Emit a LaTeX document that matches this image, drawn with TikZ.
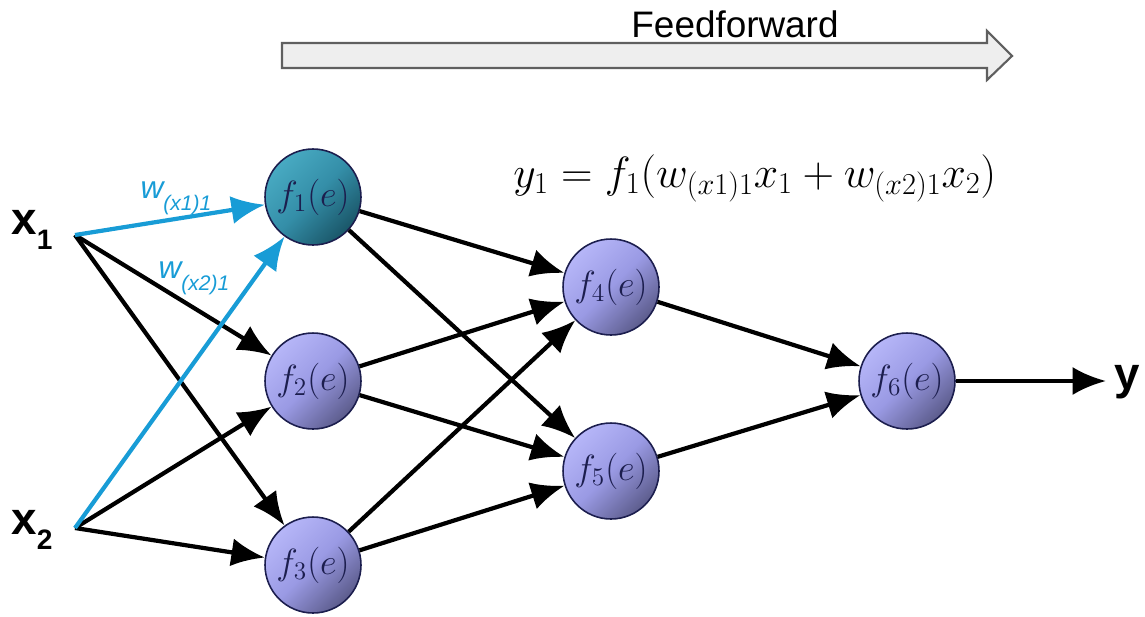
\documentclass[tikz,border=0pt]{standalone}
\usepackage{fontspec}
\newfontfamily\arialfont{Liberation Sans}
\usepackage{xcolor}
\definecolor{NeuronLight}{RGB}{182,182,248}
\definecolor{NeuronMid}{RGB}{154,154,228}
\definecolor{NeuronDark}{RGB}{92,92,140}
\definecolor{TealLight}{RGB}{72,170,194}
\definecolor{TealMid}{RGB}{52,142,168}
\definecolor{TealDark}{RGB}{26,86,104}
\definecolor{WeightBlue}{RGB}{24,156,214}
\definecolor{InkNavy}{RGB}{28,30,78}
\definecolor{ArrowFill}{RGB}{238,238,238}
\definecolor{ArrowEdge}{RGB}{95,95,95}
\usetikzlibrary{positioning, arrows.meta}

\begin{document}
\begin{tikzpicture}[x=0.02cm, y=-0.02cm,
  neuron/.style={circle, draw=InkNavy, line width=0.9pt, minimum size=1.92cm, inner sep=0pt,
    top color=NeuronLight, bottom color=NeuronDark, middle color=NeuronMid, shading angle=45,
    text=InkNavy, font=\fontsize{21}{24}\selectfont},
  active/.style={neuron, top color=TealLight, bottom color=TealDark, middle color=TealMid, shading angle=45},
  link/.style={-{Latex[length=19pt,width=16pt]}, line width=2.4pt},
  wlink/.style={link, WeightBlue},
  inlabel/.style={font=\arialfont\bfseries\fontsize{26}{28}\selectfont},
  wlabel/.style={text=WeightBlue, font=\arialfont\itshape\fontsize{18}{20}\selectfont}]
  \useasboundingbox (0,0) rectangle (1145,616);
  % Flecha / Feedforward arrow
  \draw[fill=ArrowFill, draw=ArrowEdge, line width=1.2pt] (282,43) -- (987,43) -- (987,31) -- (1012,56)
    -- (987,80) -- (987,68) -- (282,68) -- cycle;
  \node[font=\arialfont\fontsize{21}{24}\selectfont] (ff) at (735,24) {Feedforward};
  % Entradas / Inputs
  \coordinate (x1) at (75,235);
  \coordinate (x2) at (75,528);
  \node[inlabel] (x1lab) at (32,230) {x\raisebox{-9pt}{\fontsize{16}{18}\selectfont 1}};
  \node[inlabel] (x2lab) at (32,530) {x\raisebox{-9pt}{\fontsize{16}{18}\selectfont 2}};
  % Neuronas / Neurons
  \node[active] (f1) at (313,197) {$f_1(e)$};
  \node[neuron] (f2) at (313,381) {$f_2(e)$};
  \node[neuron] (f3) at (313,565) {$f_3(e)$};
  \node[neuron] (f4) at (611,287) {$f_4(e)$};
  \node[neuron] (f5) at (611,471) {$f_5(e)$};
  \node[neuron] (f6) at (907,381) {$f_6(e)$};
  % Salida / Output
  \coordinate (yout) at (1106,381);
  \node[inlabel] (ylab) at (1127,382) {y};
  % Conexiones / Links
  \foreach \s in {x1,x2}
    \foreach \t in {f2,f3}
      \draw[link] (\s) -- (\t);
  \foreach \s in {f1,f2,f3}
    \foreach \t in {f4,f5}
      \draw[link] (\s) -- (\t);
  \draw[link] (f4) -- (f6);
  \draw[link] (f5) -- (f6);
  \draw[link] (f6) -- (yout);
  \draw[wlink] (x1) -- (f1);
  \draw[wlink] (x2) -- (f1);
  % Pesos / Weights
  \node[wlabel] (w1) at (176,198) {w\raisebox{-7pt}{\fontsize{12}{14}\selectfont(x1)1}};
  \node[wlabel] (w2) at (194,278) {w\raisebox{-7pt}{\fontsize{12}{14}\selectfont(x2)1}};
  % Ecuacion / Equation
  \node[anchor=base west, inner sep=0pt] (eq) at (513,187)
    {\fontsize{26}{30}\selectfont$y_1 = f_1(w_{(x1)1}x_1 + w_{(x2)1}x_2)$};
\end{tikzpicture}
\end{document}
